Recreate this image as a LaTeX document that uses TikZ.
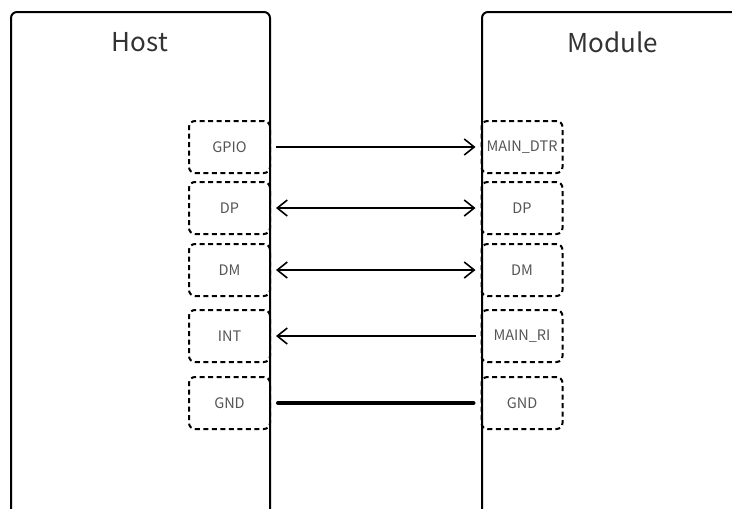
\documentclass[tikz,border=0pt]{standalone}
\usepackage{fontspec}
\setmainfont{Noto Sans CJK SC}
\usetikzlibrary{arrows.meta}
\definecolor{titlegray}{HTML}{333333}
\definecolor{pingray}{HTML}{555555}
\tikzset{
  pinbox/.style={draw, dashed, dash pattern=on 5pt off 3.5pt, line width=2pt,
    rounded corners=6pt, minimum width=81pt, minimum height=52pt,
    inner sep=0pt, text=pingray, font=\fontsize{14.5}{17}\selectfont},
  sig/.style={line width=1.6pt, shorten <=5pt, shorten >=5pt,
    arrows={-Straight Barb[length=10pt,width=16pt]}},
  title/.style={text=titlegray, font=\fontsize{26}{30}\selectfont}
}
\begin{document}
\begin{tikzpicture}[x=1pt, y=-1pt]
         \useasboundingbox (0, 0) rectangle (732, 509);
         \clip (0, 0) rectangle (732, 509);
         \fill [white] (0, 0) rectangle (732, 509);
         % pins on the host side
         \node [pinbox] (hGPIO) at (229.5, 147) {GPIO};
         \node [pinbox] (hDP) at (229.5, 208) {DP};
         \node [pinbox] (hDM) at (229.5, 270) {DM};
         \node [pinbox] (hINT) at (229.5, 336) {INT};
         \node [pinbox] (hGND) at (229.5, 403) {GND};
         % pins on the module side
         \node [pinbox] (mDTR) at (522, 147) {MAIN\_DTR};
         \node [pinbox] (mDP) at (522, 208) {DP};
         \node [pinbox] (mDM) at (522, 270) {DM};
         \node [pinbox] (mRI) at (522, 336) {MAIN\_RI};
         \node [pinbox] (mGND) at (522, 403) {GND};
         % the two boards
         \draw [line width=2pt, rounded corners=6pt] (11, 530) -- (11, 12) -- (270, 12) -- (270, 530);
         \draw [line width=2pt, rounded corners=6pt] (482, 530) -- (482, 12) -- (760, 12) -- (760, 530);
         \node [title] (host) at (140, 42) {Host};
         \node [title] (module) at (613, 42) {Module};
         % signals
         \draw [sig] (hGPIO.east) -- (mDTR.west);
         \draw [sig, arrows={Straight Barb[length=10pt,width=16pt]-Straight Barb[length=10pt,width=16pt]}] (hDP.east) -- (mDP.west);
         \draw [sig, arrows={Straight Barb[length=10pt,width=16pt]-Straight Barb[length=10pt,width=16pt]}] (hDM.east) -- (mDM.west);
         \draw [sig, arrows={Straight Barb[length=10pt,width=16pt]-}] (hINT.east) -- (mRI.west);
         \draw [line width=4pt, line cap=round, shorten <=7pt, shorten >=7pt] (hGND.east) -- (mGND.west);
        \end{tikzpicture}
\end{document}
